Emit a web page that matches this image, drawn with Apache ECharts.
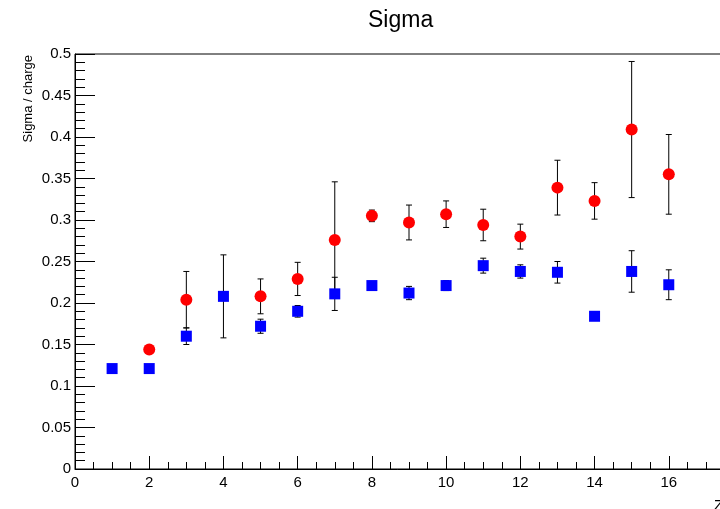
<!DOCTYPE html>
<html>
<head>
<meta charset="utf-8">
<script src="https://cdn.jsdelivr.net/npm/echarts@6/dist/echarts.min.js"></script>
<style>
html,body{margin:0;padding:0;background:#fff;}
#chart{width:720px;height:509px;}
</style>
</head>
<body>
<div id="chart"></div>
<script>
// Blue squares
var zBlue = [1, 2, 3, 4, 5, 6, 7, 8, 9, 10, 11, 12, 13, 14, 15, 16];
var sigmaBlue = [0.121, 0.121, 0.160, 0.208, 0.172, 0.190, 0.211, 0.221, 0.212, 0.221, 0.245, 0.238, 0.237, 0.184, 0.238, 0.222];
var errBlue = [0.002, 0.002, 0.010, 0.050, 0.0085, 0.007, 0.020, 0.003, 0.008, 0.006, 0.009, 0.008, 0.013, 0.004, 0.025, 0.018];
// Red circles
var zRed = [2, 3, 5, 6, 7, 8, 9, 10, 11, 12, 13, 14, 15, 16];
var sigmaRed = [0.144, 0.204, 0.208, 0.229, 0.276, 0.305, 0.297, 0.307, 0.294, 0.280, 0.339, 0.323, 0.409, 0.355];
var errRed = [0.004, 0.034, 0.021, 0.020, 0.070, 0.007, 0.021, 0.016, 0.019, 0.015, 0.033, 0.022, 0.082, 0.048];

var titleText = 'Sigma';
var yName = 'Sigma / charge';
var xName = 'Z';

function pts(xs, ys, es) {
  return xs.map(function (x, i) { return [x, ys[i], es[i]]; });
}
var blueData = pts(zBlue, sigmaBlue, errBlue);
var redData = pts(zRed, sigmaRed, errRed);

function errRender(params, api) {
  var x = api.value(0), y = api.value(1), e = api.value(2);
  var top = api.coord([x, y + e]);
  var bot = api.coord([x, y - e]);
  var cw = 3;
  var st = { stroke: '#000', lineWidth: 1 };
  return {
    type: 'group',
    children: [
      { type: 'line', shape: { x1: top[0], y1: top[1], x2: bot[0], y2: bot[1] }, style: st },
      { type: 'line', shape: { x1: top[0] - cw, y1: top[1], x2: top[0] + cw, y2: top[1] }, style: st },
      { type: 'line', shape: { x1: bot[0] - cw, y1: bot[1], x2: bot[0] + cw, y2: bot[1] }, style: st }
    ]
  };
}

var font = 'Liberation Sans, Arial, Helvetica, sans-serif';
var chart = echarts.init(document.getElementById('chart'), null, { renderer: 'canvas' });
chart.setOption({
  backgroundColor: '#fff',
  animation: false,
  title: {
    text: titleText, left: 363, top: 4,
    textStyle: { fontSize: 23, fontWeight: 'normal', fontFamily: font, color: '#000' }
  },
  grid: {
    left: 75, top: 54, width: 668, height: 415,
    outerBoundsMode: 'none', containLabel: false,
    show: true, borderColor: '#000', borderWidth: 1, backgroundColor: 'transparent'
  },
  xAxis: {
    type: 'value', min: 0, max: 18, interval: 2,
    axisLine: { show: true, lineStyle: { color: '#000', width: 1 } },
    axisTick: { show: true, inside: true, length: 13, lineStyle: { color: '#000' } },
    minorTick: { show: true, splitNumber: 4, length: 7, lineStyle: { color: '#000' } },
    splitLine: { show: false },
    axisLabel: { color: '#000', fontSize: 15, fontFamily: font, margin: 6 }
  },
  yAxis: {
    type: 'value', min: 0, max: 0.5, interval: 0.05,
    axisLine: { show: true, lineStyle: { color: '#000', width: 1 } },
    axisTick: { show: true, inside: true, length: 20, lineStyle: { color: '#000' } },
    minorTick: { show: true, splitNumber: 5, length: 10, lineStyle: { color: '#000' } },
    splitLine: { show: false },
    axisLabel: { color: '#000', fontSize: 15, fontFamily: font, margin: 4 }
  },
  graphic: [
    { type: 'text', x: 28, y: 55, rotation: Math.PI / 2,
      style: { text: yName, fill: '#000', font: '13px ' + font, textAlign: 'right', textVerticalAlign: 'middle' } },
    { type: 'text', x: 714, y: 498,
      style: { text: xName, fill: '#000', font: '15px ' + font, textAlign: 'left', textVerticalAlign: 'top' } }
  ],
  series: [
    { type: 'custom', name: 'errBlue', renderItem: errRender, data: blueData, z: 1, encode: { x: 0, y: 1 } },
    { type: 'custom', name: 'errRed', renderItem: errRender, data: redData, z: 1, encode: { x: 0, y: 1 } },
    { type: 'scatter', name: 'blue', symbol: 'rect', symbolSize: 11, itemStyle: { color: '#0000ff', opacity: 1 },
      data: blueData.map(function (d) { return [d[0], d[1]]; }), z: 3 },
    { type: 'scatter', name: 'red', symbol: 'circle', symbolSize: 12, itemStyle: { color: '#ff0000', opacity: 1 },
      data: redData.map(function (d) { return [d[0], d[1]]; }), z: 3 }
  ]
});
</script>
</body>
</html>
